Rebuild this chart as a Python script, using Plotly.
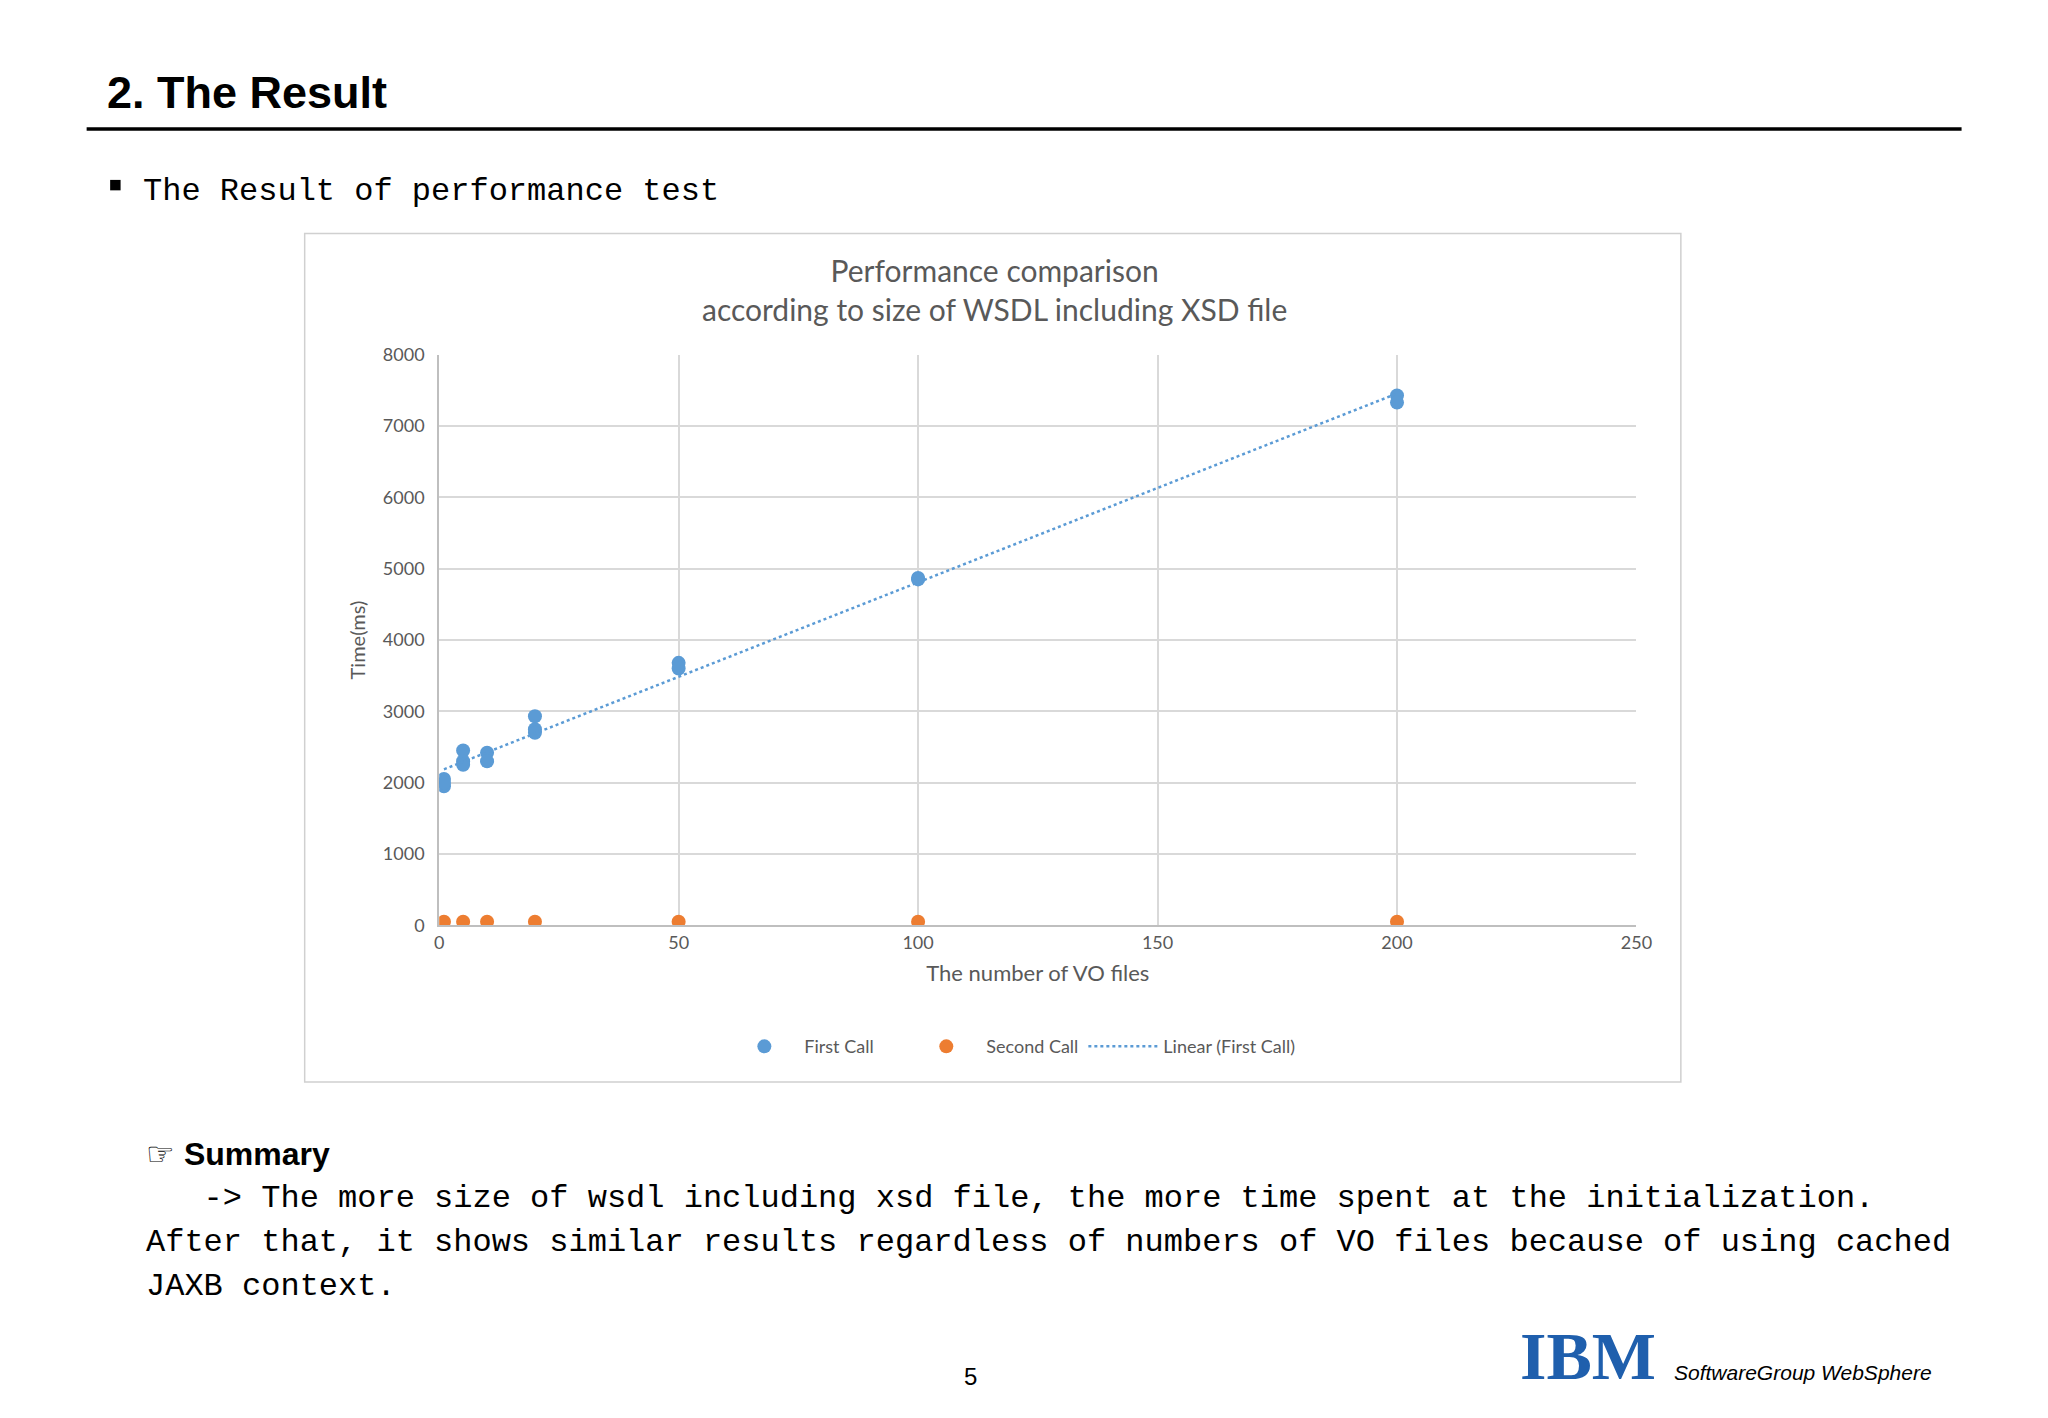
import numpy as np
import plotly.graph_objects as go

first_x = [1, 1, 1, 5, 5, 5, 10, 10, 20, 20, 20, 50, 50, 100, 100, 200, 200]
first_y = [2050, 1950, 2000, 2450, 2300, 2250, 2420, 2300, 2930, 2750, 2700, 3680, 3600, 4870, 4850, 7430, 7330]
second_x = [1, 5, 10, 20, 50, 100, 200]
second_y = [50, 50, 50, 50, 50, 50, 50]

blue = "#5B9BD5"
orange = "#ED7D31"
gray = "#595959"

m, b = np.polyfit(first_x, first_y, 1)
tx = [1, 200]
ty = [m * v + b for v in tx]

fig = go.Figure()
fig.add_trace(go.Scatter(x=first_x, y=first_y, mode="markers", name="First Call      ",
                         marker=dict(color=blue, size=14)))
fig.add_trace(go.Scatter(x=second_x, y=second_y, mode="markers", name="Second Call",
                         marker=dict(color=orange, size=14)))
fig.add_trace(go.Scatter(x=tx, y=ty, mode="lines", name="Linear (First Call)",
                         line=dict(color=blue, width=2.5, dash="dot")))

W, H = 2048, 1418
def px(d): return ((d - 9.6) / 0.990) * 1.306 / W
def py(d): return 1 - ((d - 14.5) / 0.985) * 1.306 / H

fig.update_layout(
    width=W, height=H, margin=dict(l=0, r=0, t=0, b=0),
    paper_bgcolor="white", plot_bgcolor="white",
    font=dict(family="Lato", color=gray),
    xaxis=dict(domain=[px(336), px(1253)], range=[0, 250], dtick=50,
               showgrid=True, gridcolor="#d9d9d9", gridwidth=1.5, zeroline=False,
               showline=True, linecolor="#bfbfbf", linewidth=1.5,
               tickfont=dict(size=18, color=gray),
               title=dict(text="The number of VO files", font=dict(size=22, color=gray), standoff=14)),
    yaxis=dict(domain=[py(708), py(271)], range=[0, 8000], dtick=1000,
               showgrid=True, gridcolor="#d9d9d9", gridwidth=1.5, zeroline=False,
               showline=True, linecolor="#bfbfbf", linewidth=1.5,
               tickfont=dict(size=18, color=gray), ticksuffix="  ",
               title=dict(text="Time(ms)", font=dict(size=20, color=gray), standoff=12)),
    legend=dict(orientation="h", x=px(775), xanchor="center", y=py(801), yanchor="middle",
                font=dict(size=18, color=gray), bgcolor="rgba(0,0,0,0)",
                itemwidth=70),
    showlegend=True,
)

shapes = [
    dict(type="line", xref="paper", yref="paper", x0=px(66), x1=px(1502), y0=py(98), y1=py(98),
         line=dict(color="black", width=3.5)),
    dict(type="rect", xref="paper", yref="paper", x0=px(233), x1=px(1287), y0=py(178), y1=py(828),
         line=dict(color="#d0d0d0", width=1.5)),
    dict(type="rect", xref="paper", yref="paper", x0=px(84), x1=px(92), y0=py(137), y1=py(145),
         fillcolor="black", line=dict(width=0)),
]

ann = []
def A(text, x, y, size, family, color="black", xa="left", ya="middle"):
    ann.append(dict(text=text, x=px(x), y=py(y), xref="paper", yref="paper", showarrow=False,
                    xanchor=xa, yanchor=ya, font=dict(size=size, family=family, color=color)))

A("<b>2. The Result</b>", 80, 70, 45, "Liberation Sans")
A("The Result of performance test", 108, 146, 32, "Liberation Mono")
A("Performance comparison<br>according to size of WSDL including XSD file", 761, 221, 30, "Lato",
  color=gray, xa="center")
A("☞ <b>Summary</b>", 110, 883, 32, "Liberation Sans")
A("   -> The more size of wsdl including xsd file, the more time spent at the initialization.", 110, 917, 32, "Liberation Mono")
A("After that, it shows similar results regardless of numbers of VO files because of using cached", 110, 951, 32, "Liberation Mono")
A("JAXB context.", 110, 985, 32, "Liberation Mono")
A("5", 743, 1054, 24, "Liberation Sans", xa="center")
A("<b>IBM</b>", 1216, 1038, 68, "Liberation Serif", color="#1F5FAD", xa="center")
A("<i>SoftwareGroup WebSphere</i>", 1280, 1051, 21, "Liberation Sans")
fig.update_layout(annotations=ann)

for i in range(7):
    y = 1021 + i * 5.3 + 3.3
    shapes.append(dict(type="rect", xref="paper", yref="paper", x0=px(1164), x1=px(1268),
                       y0=py(y), y1=py(y + 1.8), fillcolor="white", line=dict(width=0), layer="above"))
fig.update_layout(shapes=shapes)

fig.write_html("out.html")
